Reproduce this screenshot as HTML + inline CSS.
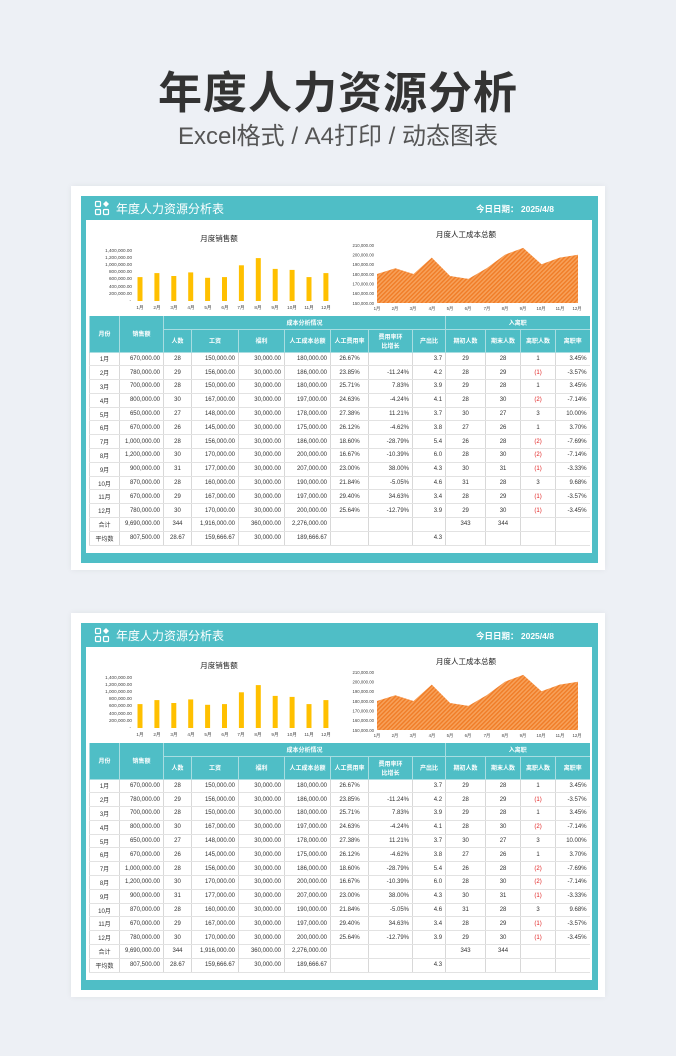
<!DOCTYPE html>
<html><head><meta charset="utf-8">
<style>
*{margin:0;padding:0;box-sizing:border-box}
body{width:676px;height:1056px;background:#edf0f5;position:relative;overflow:hidden;font-family:"Liberation Sans","Noto Sans CJK SC",sans-serif}
.t1{position:absolute;left:0;width:676px;top:68px;text-align:center;font-size:44px;font-weight:bold;color:#333;letter-spacing:1px;line-height:52px}
.t2{position:absolute;left:0;width:676px;top:122px;text-align:center;font-size:24px;color:#555;line-height:30px}
.card{position:absolute;left:71px;width:534px;height:384px;background:#fff;box-shadow:0 0 6px rgba(0,0,0,.06)}
.card svg{position:absolute;left:0;top:0}
table{position:absolute;left:18px;top:130px;border-collapse:collapse;table-layout:fixed;width:500px;font-size:6px;color:#333}
td,th{height:13.8px;text-align:center;white-space:nowrap;overflow:hidden;border-left:1px solid #d8d8d8;border-bottom:1px solid #e2e2e2;padding:0 3px;font-weight:normal}
th{background:#4fbec6;color:#fff;font-weight:bold;border-left:1px solid #a8dde1;border-bottom:1px solid #a8dde1}
tr.h1 th{height:13px}
tr.h2 th{height:23px}
td.r{text-align:right}
.red{color:#e02020}
</style></head><body>
<div class="t1">年度人力资源分析</div>
<div class="t2">Excel格式 / A4打印 / 动态图表</div>

<div class="card" style="top:186px" id="c1">
<svg width="534" height="384" viewBox="70 185 534 384" xmlns="http://www.w3.org/2000/svg" font-family="Liberation Sans, Noto Sans CJK SC, sans-serif">
<defs><pattern id="hp" width="3" height="3" patternUnits="userSpaceOnUse" patternTransform="rotate(45)"><rect width="3" height="3" fill="#f7a15a"/><rect width="1.4" height="3" fill="#f07c26"/></pattern></defs>
<rect x="80" y="195" width="517" height="367" fill="#4fbec6"/>
<rect x="85" y="219" width="506" height="333" fill="#fff"/>
<g fill="none" stroke="#fff" stroke-width="1.2"><rect x="94.5" y="200.5" width="5" height="5" rx="1"/><rect x="94.5" y="208.5" width="5" height="5" rx="1"/><rect x="102.5" y="208.5" width="5" height="5" rx="1"/></g>
<path d="M105 200 L108 203 L105 206 L102 203Z" fill="#fff"/>
<text x="115" y="212" font-size="12" fill="#fff">年度人力资源分析表</text>
<text x="475" y="211" font-size="8.5" fill="#fff" font-weight="bold">今日日期：  2025/4/8</text>
<text x="218" y="240" font-size="7.5" text-anchor="middle" fill="#222">月度销售额</text>
<g font-size="4.6" fill="#444" text-anchor="end">
<text x="131" y="251">1,400,000.00</text><text x="131" y="258">1,200,000.00</text><text x="131" y="265">1,000,000.00</text><text x="131" y="272">800,000.00</text><text x="131" y="279">600,000.00</text><text x="131" y="287">400,000.00</text><text x="131" y="294">200,000.00</text><text x="130" y="301">-</text>
</g>
<g fill="#ffc000">
<rect x="136.5" y="276.1" width="5" height="23.9"/><rect x="153.4" y="272.1" width="5" height="27.9"/><rect x="170.3" y="275" width="5" height="25"/><rect x="187.2" y="271.4" width="5" height="28.6"/><rect x="204.1" y="276.8" width="5" height="23.2"/><rect x="221" y="276.1" width="5" height="23.9"/><rect x="237.9" y="264.3" width="5" height="35.7"/><rect x="254.8" y="257.1" width="5" height="42.9"/><rect x="271.7" y="267.9" width="5" height="32.1"/><rect x="288.6" y="268.9" width="5" height="31.1"/><rect x="305.5" y="276.1" width="5" height="23.9"/><rect x="322.4" y="272.1" width="5" height="27.9"/>
</g>
<g font-size="4.6" fill="#444" text-anchor="middle">
<text x="139" y="308">1月</text><text x="156" y="308">2月</text><text x="173" y="308">3月</text><text x="190" y="308">4月</text><text x="207" y="308">5月</text><text x="224" y="308">6月</text><text x="240" y="308">7月</text><text x="257" y="308">8月</text><text x="274" y="308">9月</text><text x="291" y="308">10月</text><text x="308" y="308">11月</text><text x="325" y="308">12月</text>
</g>
<text x="465" y="236" font-size="7.5" text-anchor="middle" fill="#222">月度人工成本总额</text>
<g font-size="4.3" fill="#444" text-anchor="end">
<text x="373" y="246">210,000.00</text><text x="373" y="255.5">200,000.00</text><text x="373" y="265">190,000.00</text><text x="373" y="275">180,000.00</text><text x="373" y="284.5">170,000.00</text><text x="373" y="294">160,000.00</text><text x="373" y="304">150,000.00</text>
</g>
<path d="M376 273 L394.3 267.2 L412.5 273 L430.8 256.6 L449.1 275 L467.4 277.9 L485.6 267.2 L503.9 253.7 L522.2 246.9 L540.5 263.3 L558.7 256.6 L577 253.7 L577 302 L376 302Z" fill="url(#hp)"/>
<g font-size="4.3" fill="#444" text-anchor="middle">
<text x="376" y="309">1月</text><text x="394" y="309">2月</text><text x="412" y="309">3月</text><text x="431" y="309">4月</text><text x="449" y="309">5月</text><text x="467" y="309">6月</text><text x="486" y="309">7月</text><text x="504" y="309">8月</text><text x="522" y="309">9月</text><text x="540" y="309">10月</text><text x="559" y="309">11月</text><text x="576" y="309">12月</text>
</g>
</svg>
<table>
<colgroup><col style="width:30px"><col style="width:44px"><col style="width:28px"><col style="width:47px"><col style="width:46px"><col style="width:46px"><col style="width:38px"><col style="width:44px"><col style="width:33px"><col style="width:40px"><col style="width:35px"><col style="width:35px"><col style="width:34px"></colgroup>
<tr class="h1"><th rowspan="2">月份</th><th rowspan="2">销售额</th><th colspan="7">成本分析情况</th><th colspan="4">入离职</th></tr>
<tr class="h2"><th>人数</th><th>工资</th><th>福利</th><th>人工成本总额</th><th>人工费用率</th><th>费用率环<br>比增长</th><th>产出比</th><th>期初人数</th><th>期末人数</th><th>离职人数</th><th>离职率</th></tr>
<tr><td>1月</td><td class="r">670,000.00</td><td>28</td><td class="r">150,000.00</td><td class="r">30,000.00</td><td class="r">180,000.00</td><td>26.67%</td><td></td><td class="r">3.7</td><td>29</td><td>28</td><td>1</td><td class="r">3.45%</td></tr>
<tr><td>2月</td><td class="r">780,000.00</td><td>29</td><td class="r">156,000.00</td><td class="r">30,000.00</td><td class="r">186,000.00</td><td>23.85%</td><td class="r">-11.24%</td><td class="r">4.2</td><td>28</td><td>29</td><td class="red">(1)</td><td class="r">-3.57%</td></tr>
<tr><td>3月</td><td class="r">700,000.00</td><td>28</td><td class="r">150,000.00</td><td class="r">30,000.00</td><td class="r">180,000.00</td><td>25.71%</td><td class="r">7.83%</td><td class="r">3.9</td><td>29</td><td>28</td><td>1</td><td class="r">3.45%</td></tr>
<tr><td>4月</td><td class="r">800,000.00</td><td>30</td><td class="r">167,000.00</td><td class="r">30,000.00</td><td class="r">197,000.00</td><td>24.63%</td><td class="r">-4.24%</td><td class="r">4.1</td><td>28</td><td>30</td><td class="red">(2)</td><td class="r">-7.14%</td></tr>
<tr><td>5月</td><td class="r">650,000.00</td><td>27</td><td class="r">148,000.00</td><td class="r">30,000.00</td><td class="r">178,000.00</td><td>27.38%</td><td class="r">11.21%</td><td class="r">3.7</td><td>30</td><td>27</td><td>3</td><td class="r">10.00%</td></tr>
<tr><td>6月</td><td class="r">670,000.00</td><td>26</td><td class="r">145,000.00</td><td class="r">30,000.00</td><td class="r">175,000.00</td><td>26.12%</td><td class="r">-4.62%</td><td class="r">3.8</td><td>27</td><td>26</td><td>1</td><td class="r">3.70%</td></tr>
<tr><td>7月</td><td class="r">1,000,000.00</td><td>28</td><td class="r">156,000.00</td><td class="r">30,000.00</td><td class="r">186,000.00</td><td>18.60%</td><td class="r">-28.79%</td><td class="r">5.4</td><td>26</td><td>28</td><td class="red">(2)</td><td class="r">-7.69%</td></tr>
<tr><td>8月</td><td class="r">1,200,000.00</td><td>30</td><td class="r">170,000.00</td><td class="r">30,000.00</td><td class="r">200,000.00</td><td>16.67%</td><td class="r">-10.39%</td><td class="r">6.0</td><td>28</td><td>30</td><td class="red">(2)</td><td class="r">-7.14%</td></tr>
<tr><td>9月</td><td class="r">900,000.00</td><td>31</td><td class="r">177,000.00</td><td class="r">30,000.00</td><td class="r">207,000.00</td><td>23.00%</td><td class="r">38.00%</td><td class="r">4.3</td><td>30</td><td>31</td><td class="red">(1)</td><td class="r">-3.33%</td></tr>
<tr><td>10月</td><td class="r">870,000.00</td><td>28</td><td class="r">160,000.00</td><td class="r">30,000.00</td><td class="r">190,000.00</td><td>21.84%</td><td class="r">-5.05%</td><td class="r">4.6</td><td>31</td><td>28</td><td>3</td><td class="r">9.68%</td></tr>
<tr><td>11月</td><td class="r">670,000.00</td><td>29</td><td class="r">167,000.00</td><td class="r">30,000.00</td><td class="r">197,000.00</td><td>29.40%</td><td class="r">34.63%</td><td class="r">3.4</td><td>28</td><td>29</td><td class="red">(1)</td><td class="r">-3.57%</td></tr>
<tr><td>12月</td><td class="r">780,000.00</td><td>30</td><td class="r">170,000.00</td><td class="r">30,000.00</td><td class="r">200,000.00</td><td>25.64%</td><td class="r">-12.79%</td><td class="r">3.9</td><td>29</td><td>30</td><td class="red">(1)</td><td class="r">-3.45%</td></tr>
<tr><td>合计</td><td class="r">9,690,000.00</td><td>344</td><td class="r">1,916,000.00</td><td class="r">360,000.00</td><td class="r">2,276,000.00</td><td></td><td></td><td></td><td>343</td><td>344</td><td></td><td></td></tr>
<tr><td>平均数</td><td class="r">807,500.00</td><td>28.67</td><td class="r">159,666.67</td><td class="r">30,000.00</td><td class="r">189,666.67</td><td></td><td></td><td class="r">4.3</td><td></td><td></td><td></td><td></td></tr>
</table>
</div>

<div id="c2holder"></div>
<script>
var c=document.getElementById('c1').cloneNode(true);c.id='c2';c.style.top='613px';
var h=document.getElementById('c2holder');h.parentNode.replaceChild(c,h);
</script>
</body></html>
